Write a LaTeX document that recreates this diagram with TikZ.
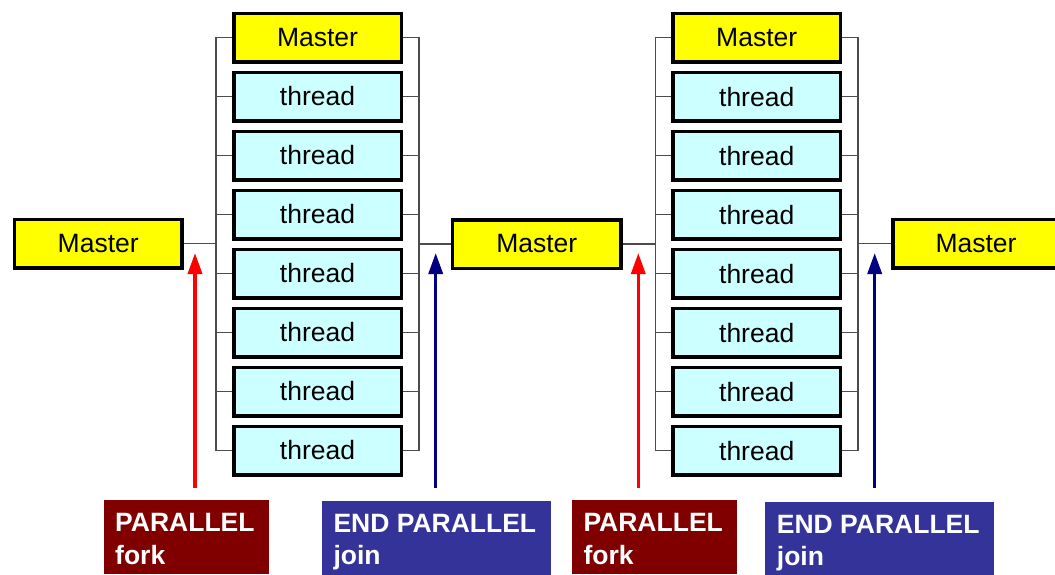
\documentclass[tikz,border=0pt]{standalone}
\usepackage{fontspec}
\setmainfont{Liberation Sans}
\usetikzlibrary{arrows.meta}
\definecolor{mastery}{HTML}{FFFF00}
\definecolor{threadc}{HTML}{CCFFFF}
\definecolor{forkred}{HTML}{800000}
\definecolor{joinblue}{HTML}{333399}
\definecolor{arrred}{HTML}{FF0000}
\definecolor{arrblue}{HTML}{000080}
\begin{document}
\begin{tikzpicture}[x=1pt,y=-1pt,
  box/.style={draw=black,line width=3.5pt,minimum width=167.5pt,minimum height=48.5pt,inner sep=0pt,font=\fontsize{26.5}{31}\selectfont},
  masterbox/.style={box,fill=mastery},
  threadbox/.style={box,fill=threadc},
  wire/.style={draw=black!70,line width=1.3pt},
  forkarrow/.style={draw=arrred,line width=3.5pt,-{Triangle[width=14pt,length=21pt]}},
  joinarrow/.style={draw=arrblue,line width=3.5pt,-{Triangle[width=14pt,length=21pt]}},
  labbox/.style={draw=none,inner sep=0pt,minimum height=74pt,anchor=north west},
  forklab/.style={labbox,fill=forkred,minimum width=165pt},
  joinlab/.style={labbox,fill=joinblue,minimum width=228.7pt},
  labtext/.style={text=white,inner sep=0pt,anchor=base west,font=\fontsize{26.5}{31}\selectfont\bfseries}
]
\useasboundingbox (0,0) rectangle (1055,574);

% bracket coordinates
\coordinate (c1L) at (216,244);
\coordinate (c1R) at (419,244);
\coordinate (c2L) at (655.3,244);
\coordinate (c2R) at (858,244);

% sequential masters
\node[masterbox] (m1) at (98.2,243.8) {Master};
\node[masterbox,minimum width=168.2pt] (m2) at (536.8,244) {Master};
\node[masterbox,minimum width=166.5pt] (m3) at (976,243.8) {Master};

% column 1
\node[masterbox] (c1m) at (317.5,37.5) {Master};
\foreach \i in {1,...,7} {
  \node[threadbox] (c1t\i) at (317.5,{37.5+59*\i}) {thread};
  \draw[wire] (c1t\i.west) -- (c1t\i.west -| c1L);
  \draw[wire] (c1t\i.east) -- (c1t\i.east -| c1R);
}
\draw[wire] (c1m.west) -- (c1m.west -| c1L) -- (c1t7.west -| c1L);
\draw[wire] (c1m.east) -- (c1m.east -| c1R) -- (c1t7.east -| c1R);

% column 2
\node[masterbox,minimum width=167.2pt] (c2m) at (756.7,37.7) {Master};
\foreach \i in {1,...,7} {
  \node[threadbox,minimum width=167.2pt] (c2t\i) at (756.7,{37.7+59*\i}) {thread};
  \draw[wire] (c2t\i.west) -- (c2t\i.west -| c2L);
  \draw[wire] (c2t\i.east) -- (c2t\i.east -| c2R);
}
\draw[wire] (c2m.west) -- (c2m.west -| c2L) -- (c2t7.west -| c2L);
\draw[wire] (c2m.east) -- (c2m.east -| c2R) -- (c2t7.east -| c2R);

% links between masters and brackets
\draw[wire] (m1.east) -- (m1.east -| c1L);
\draw[wire] (m2.west) -- (m2.west -| c1R);
\draw[wire] (m2.east) -- (m2.east -| c2L);
\draw[wire] (m3.west) -- (m3.west -| c2R);

% arrows
\coordinate (a1s) at (195,488);  \coordinate (a1e) at (195,253);
\coordinate (a2s) at (435.7,488); \coordinate (a2e) at (435.7,253);
\coordinate (a3s) at (638.3,488); \coordinate (a3e) at (638.3,253);
\coordinate (a4s) at (874.7,488); \coordinate (a4e) at (874.7,253);
\draw[forkarrow] (a1s) -- (a1e);
\draw[joinarrow] (a2s) -- (a2e);
\draw[forkarrow] (a3s) -- (a3e);
\draw[joinarrow] (a4s) -- (a4e);

% labels
\node[forklab] (l1) at (104,500) {};
\node[labtext] (l1a) at (115,531.7) {PARALLEL};
\node[labtext] (l1b) at (115,564) {fork};

\node[joinlab] (l2) at (322,501) {};
\node[labtext] (l2a) at (333.3,532.7) {END PARALLEL};
\node[labtext] (l2b) at (333.3,564.5) {join};

\node[forklab,minimum width=164.7pt] (l3) at (572,500) {};
\node[labtext] (l3a) at (583.3,531.7) {PARALLEL};
\node[labtext] (l3b) at (583.3,564) {fork};

\node[joinlab] (l4) at (765,502) {};
\node[labtext] (l4a) at (776.7,533.3) {END PARALLEL};
\node[labtext] (l4b) at (776.7,565) {join};
\end{tikzpicture}
\end{document}
